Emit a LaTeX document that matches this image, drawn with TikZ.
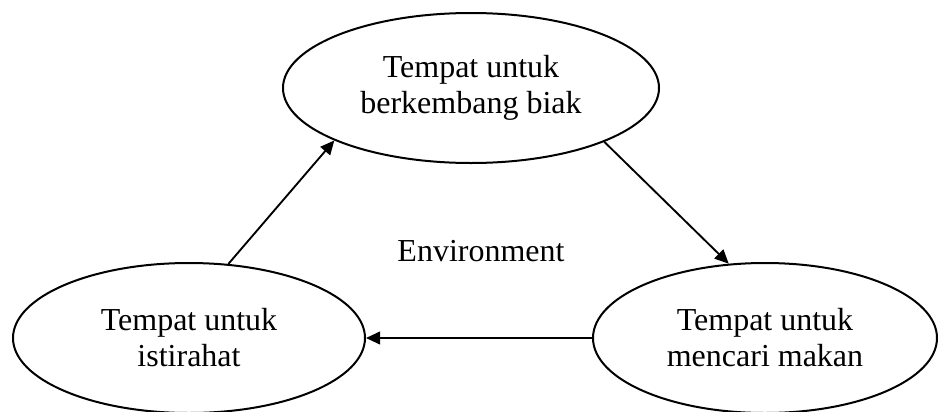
\documentclass[tikz,border=0pt]{standalone}
\usepackage{fontspec}
\setmainfont{Liberation Serif}
\usetikzlibrary{shapes.geometric,arrows.meta}
\begin{document}
\begin{tikzpicture}[x=0.75pt,y=-0.75pt,
  habitat/.style={ellipse,draw,line width=1.5pt,inner sep=0pt,
    minimum width=#1*0.75pt,minimum height=150*0.75pt,
    align=center,font=\fontsize{24}{27}\selectfont},
  flow/.style={line width=1.4pt,-{Triangle[length=10.5pt,width=9.5pt]}}]
\useasboundingbox (0,0) rectangle (939,411);
\node[habitat=376] (top) at (471,88) {Tempat untuk\\berkembang biak};
\node[habitat=352] (left) at (189,338) {Tempat untuk\\istirahat};
\node[habitat=344] (right) at (765,338) {Tempat untuk\\mencari makan};
\node[anchor=base,font=\fontsize{24}{27}\selectfont] (env) at (481,261) {Environment};
\draw[flow] (left.62.5) -- (top.201);
\draw[flow] (top.338) -- (right.116);
\draw[flow] (right.west) -- (left.east);
\end{tikzpicture}
\end{document}
